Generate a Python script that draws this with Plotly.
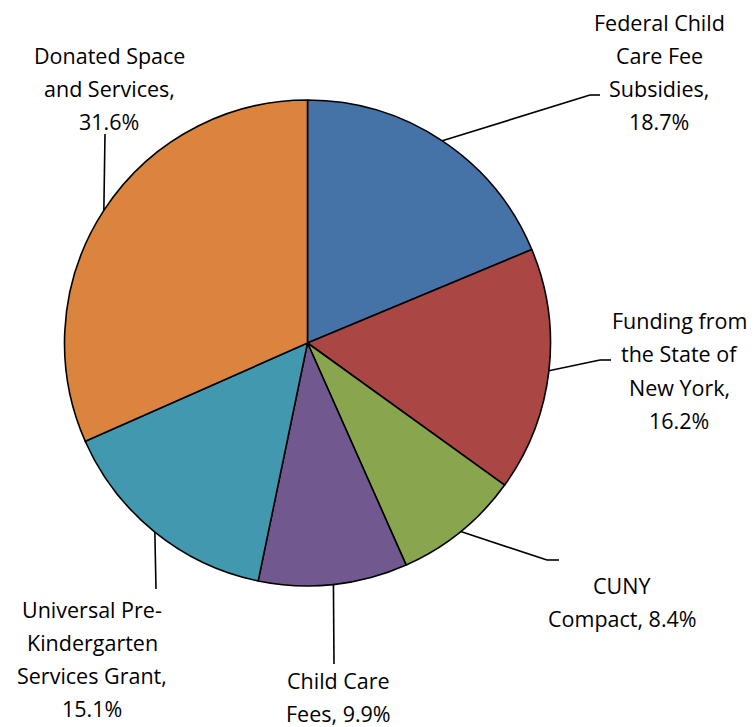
import math
import plotly.graph_objects as go

# ---- data ----
categories = ["Federal Child Care Fee Subsidies", "Funding from the State of New York",
              "CUNY Compact", "Child Care Fees",
              "Universal Pre-Kindergarten Services Grant", "Donated Space and Services"]
values = [18.7, 16.2, 8.4, 9.9, 15.1, 31.6]
label_lines = [
    ["Federal Child", "Care Fee", "Subsidies,", "18.7%"],
    ["Funding from", "the State of", "New York,", "16.2%"],
    ["CUNY", "Compact, 8.4%"],
    ["Child Care", "Fees, 9.9%"],
    ["Universal Pre-", "Kindergarten", "Services Grant,", "15.1%"],
    ["Donated Space", "and Services,", "31.6%"],
]
colors = ["#4572A7", "#AA4643", "#89A54E", "#71588F", "#4198AF", "#DB843D"]

# ---- layout (pixels) ----
W, H = 755, 727
CX, CY, R = 307.5, 343.0, 243.0
# label centre x, first-line centre y
label_pos = [(659, 23), (679, 321), (622, 585), (338, 680), (92, 609), (109, 55)]
LINE_GAP = 33
# leader elbow points (pixel) and horizontal tail end x (None = no tail)
elbows = [((590, 95), 600), ((600, 360), 611), ((547, 560), 559),
          ((334, 664), None), ((156, 589), None), ((105, 134), None)]

FONT = "Open Sans"
FS = 21.5

def px(x):
    return x / W

def py(y):
    return 1 - y / H

fig = go.Figure(go.Pie(
    labels=categories, values=values, sort=False, direction="clockwise",
    rotation=0, textinfo="none", hoverinfo="label+percent",
    marker=dict(colors=colors, line=dict(color="black", width=1.6)),
    domain=dict(x=[px(CX - R), px(CX + R)], y=[py(CY + R), py(CY - R)]),
    showlegend=False,
))

total = sum(values)
cum = 0.0
shapes = []
annotations = []
for i, v in enumerate(values):
    mid = (cum + v / 2) / total * 2 * math.pi
    cum += v
    ex = CX + R * math.sin(mid)
    ey = CY - R * math.cos(mid)
    (bx, by), tail = elbows[i]
    shapes.append(dict(type="line", xref="paper", yref="paper",
                       x0=px(ex), y0=py(ey), x1=px(bx), y1=py(by),
                       line=dict(color="black", width=1.6)))
    if tail is not None:
        shapes.append(dict(type="line", xref="paper", yref="paper",
                           x0=px(bx), y0=py(by), x1=px(tail), y1=py(by),
                           line=dict(color="black", width=1.6)))
    lx, ly = label_pos[i]
    for j, t in enumerate(label_lines[i]):
        annotations.append(dict(text=t, xref="paper", yref="paper",
                                x=px(lx), y=py(ly + j * LINE_GAP),
                                xanchor="center", yanchor="middle",
                                showarrow=False,
                                font=dict(family=FONT, size=FS, color="black")))

fig.update_layout(
    width=W, height=H, margin=dict(l=0, r=0, t=0, b=0),
    paper_bgcolor="white", plot_bgcolor="white",
    shapes=shapes, annotations=annotations,
)

fig.write_html("out.html")
